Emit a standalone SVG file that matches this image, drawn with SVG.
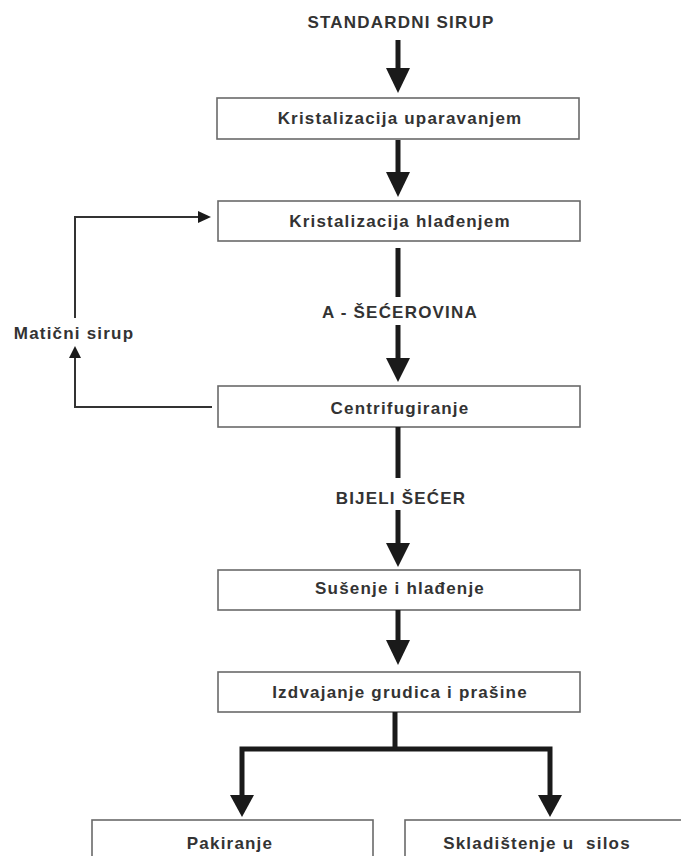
<svg xmlns="http://www.w3.org/2000/svg" width="681" height="856" viewBox="0 0 681 856">
<style>
.box{fill:#fff;stroke:#6a6a6a;stroke-width:1.6}
.t{font-family:"Liberation Sans",Arial,sans-serif;font-weight:bold;font-size:17px;letter-spacing:1.2px;fill:#333;text-anchor:middle}
.thick{stroke:#1a1a1a;stroke-width:5;fill:none}
.thin{stroke:#333;stroke-width:2;fill:none}
.head{fill:#1a1a1a}
</style>
<rect width="681" height="856" fill="#fff"/>
<g id="title"><text class="t" x="401" y="28">STANDARDNI SIRUP</text></g>
<g id="n1"><rect class="box" x="217" y="98" width="362" height="41"/><text class="t" x="400" y="124">Kristalizacija uparavanjem</text></g>
<g id="n2"><rect class="box" x="218" y="201" width="362" height="40"/><text class="t" x="400" y="227">Kristalizacija hlađenjem</text></g>
<g id="n3"><rect class="box" x="218" y="386" width="362" height="41"/><text class="t" x="400" y="414">Centrifugiranje</text></g>
<g id="n4"><rect class="box" x="218" y="570" width="362" height="40"/><text class="t" x="400" y="594">Sušenje i hlađenje</text></g>
<g id="n5"><rect class="box" x="218" y="672" width="362" height="40"/><text class="t" x="400" y="698">Izdvajanje grudica i prašine</text></g>
<g id="n6"><rect class="box" x="92" y="820" width="281" height="60"/><text class="t" x="230" y="849">Pakiranje</text></g>
<g id="n7"><rect class="box" x="405" y="820" width="285" height="60"/><text class="t" x="537" y="849" xml:space="preserve" style="white-space:pre">Skladištenje u  silos</text></g>
<g id="connectors">
<line class="thick" x1="398" y1="40" x2="398" y2="70"/>
<polygon class="head" points="386,68 410,68 398,93"/>
<line class="thick" x1="398" y1="140" x2="398" y2="174"/>
<polygon class="head" points="386,172 410,172 398,197"/>
<line class="thick" x1="398" y1="248" x2="398" y2="297"/>
<text class="t" x="400" y="318">A - ŠEĆEROVINA</text>
<line class="thick" x1="398" y1="325" x2="398" y2="360"/>
<polygon class="head" points="386,358 410,358 398,382"/>
<line class="thick" x1="398" y1="427" x2="398" y2="478"/>
<text class="t" x="401" y="504">BIJELI ŠEĆER</text>
<line class="thick" x1="398" y1="510" x2="398" y2="545"/>
<polygon class="head" points="386,543 410,543 398,567"/>
<line class="thick" x1="398" y1="610" x2="398" y2="642"/>
<polygon class="head" points="386,640 410,640 398,665"/>
<polyline class="thick" points="395,712 395,749"/>
<polyline class="thick" points="242,797 242,749 550,749 550,797"/>
<polygon class="head" points="230,795 254,795 242,817"/>
<polygon class="head" points="538,795 562,795 550,817"/>
<polyline class="thin" points="212,407 75,407 75,356"/>
<polygon class="head" points="69,358 81,358 75,346"/>
<text class="t" x="74" y="339">Matični sirup</text>
<polyline class="thin" points="75,318 75,217 200,217"/>
<polygon class="head" points="198,211 198,223 211,217"/>
</g>
</svg>
